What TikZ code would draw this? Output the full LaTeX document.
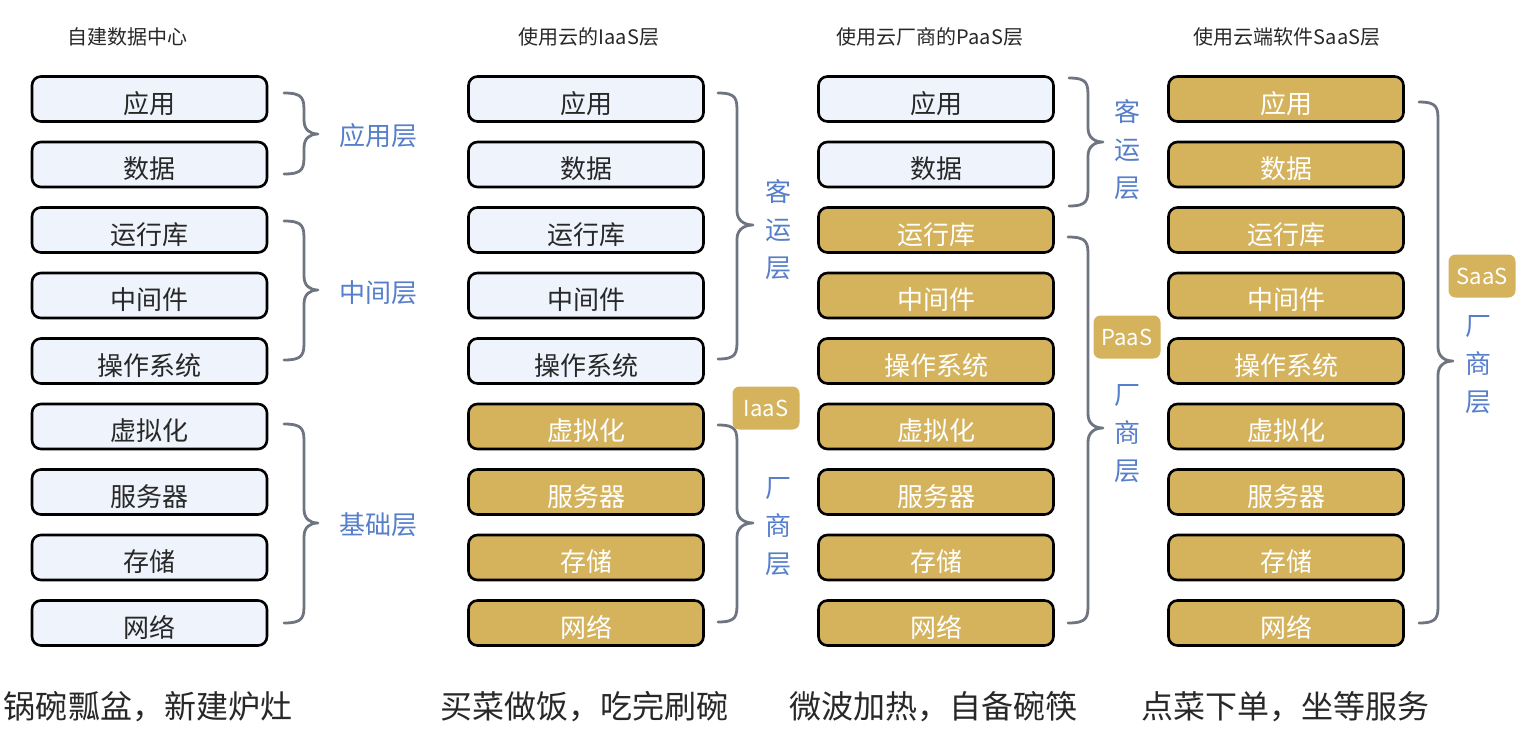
\documentclass[tikz,border=0pt]{standalone}
\usepackage{fontspec}
\setmainfont{Noto Sans CJK SC}
\definecolor{lightfill}{RGB}{238,243,252}
\definecolor{gold}{RGB}{212,179,92}
\definecolor{textdark}{RGB}{40,40,40}
\definecolor{labelblue}{RGB}{86,126,203}
\definecolor{bracegray}{RGB}{110,117,128}
\begin{document}
\begin{tikzpicture}[x=1pt,y=-1pt,
  layer/.style={draw=black, line width=2.6pt, rounded corners=9pt, minimum width=235pt, minimum height=45pt, inner sep=0pt, text height=28pt, text depth=0pt, font=\fontsize{26}{26}\selectfont},
  selfbox/.style={layer, fill=lightfill, text=textdark},
  vendbox/.style={layer, fill=gold, text=white},
  bracepath/.style={draw=bracegray, line width=2.8pt, line cap=round, line join=round},
  lbl/.style={text=labelblue, font=\fontsize{26}{38}\selectfont, inner sep=0pt, align=center},
  badge/.style={fill=gold, rounded corners=7pt, text=white, font=\fontsize{22}{22}\selectfont, minimum width=67pt, minimum height=43pt, inner sep=0pt},
  titletext/.style={font=\fontsize{20}{20}\selectfont, text=textdark, inner sep=0pt},
  motto/.style={font=\fontsize{32}{32}\selectfont, text=textdark, inner sep=0pt}
]
\useasboundingbox (0,0) rectangle (1530,737);
\fill[white] (0,0) rectangle (1530,737);

% brace macro: #1 start x, #2 vertical x, #3 tip x, #4 top y, #5 tip y, #6 bottom y
\newcommand{\mybrace}[6]{%
  \draw[bracepath] (#1,#4) .. controls (#2,#4) and (#2,#4+6) .. (#2,#4+20)
    -- (#2,#5-14) .. controls (#2,#5-4) and (#3-8,#5) .. (#3,#5)
    .. controls (#3-8,#5) and (#2,#5+4) .. (#2,#5+14)
    -- (#2,#6-20) .. controls (#2,#6-6) and (#2,#6) .. (#1,#6);}

\newcommand{\layerlist}{应用/0,数据/1,运行库/2,中间件/3,操作系统/4,虚拟化/5,服务器/6,存储/7,网络/8}

% column 1
\foreach \t/\i in \layerlist {
  \node[selfbox] (a\i) at (149.5,99+65.5*\i) {\t};
}
% column 2
\foreach \t/\i in \layerlist {
  \ifnum\i<5 \node[selfbox] (b\i) at (586,99+65.5*\i) {\t};
  \else \node[vendbox] (b\i) at (586,99+65.5*\i) {\t}; \fi
}
% column 3
\foreach \t/\i in \layerlist {
  \ifnum\i<2 \node[selfbox] (c\i) at (936,99+65.5*\i) {\t};
  \else \node[vendbox] (c\i) at (936,99+65.5*\i) {\t}; \fi
}
% column 4
\foreach \t/\i in \layerlist {
  \node[vendbox] (d\i) at (1286,99+65.5*\i) {\t};
}

% titles
\node[titletext] (t1) at (127,37) {自建数据中心};
\node[titletext] (t2) at (589,37) {使用云的IaaS层};
\node[titletext] (t3) at (930,37) {使用云厂商的PaaS层};
\node[titletext] (t4) at (1287,37) {使用云端软件SaaS层};

% column 1 braces
\mybrace{284}{304}{318}{93}{134}{174}
\mybrace{284}{304}{318}{221}{290}{360}
\mybrace{284}{304}{318}{424}{523}{623}
\node[lbl] (l1) at (378,136) {应用层};
\node[lbl] (l2) at (378,293) {中间层};
\node[lbl] (l3) at (378,525) {基础层};

% column 2 braces
\mybrace{718}{737}{753}{93}{225}{359}
\mybrace{718}{737}{753}{425}{523}{622}
\node[lbl] (l4) at (778,230) {客\\运\\层};
\node[lbl] (l5) at (778,527) {厂\\商\\层};
\node[badge] (iaas) at (766,408) {IaaS};

% column 3 braces
\mybrace{1069}{1088}{1103}{78}{142}{206}
\mybrace{1068}{1088}{1103}{237}{428}{623}
\node[lbl] (l6) at (1127,150) {客\\运\\层};
\node[lbl] (l7) at (1127,434) {厂\\商\\层};
\node[badge] (paas) at (1127,337) {PaaS};

% column 4 brace
\mybrace{1419}{1438}{1453}{102}{361}{623}
\node[lbl] (l8) at (1478,365) {厂\\商\\层};
\node[badge] (saas) at (1482,276) {SaaS};

% mottos
\node[motto] (m1) at (148,707) {锅碗瓢盆，新建炉灶};
\node[motto] (m2) at (584,707) {买菜做饭，吃完刷碗};
\node[motto] (m3) at (933,707) {微波加热，自备碗筷};
\node[motto] (m4) at (1285,707) {点菜下单，坐等服务};
\end{tikzpicture}
\end{document}
